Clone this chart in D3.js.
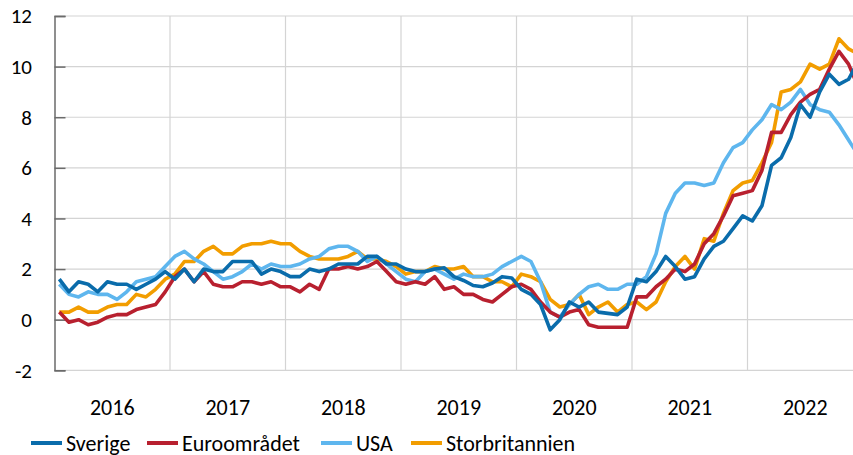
<!DOCTYPE html>
<html>
<head>
<meta charset="utf-8">
<script src="https://cdn.jsdelivr.net/npm/d3@7"></script>
<style>
  html, body { margin: 0; padding: 0; background: #fff; overflow: hidden; }
  svg { display: block; }
  text { font-family: Carlito, Calibri, Lato, "Open Sans", sans-serif; fill: #000; }
</style>
</head>
<body>
<svg id="chart" width="853" height="455"></svg>
<script>
// ---- data (monthly, Jan 2016 – Dec 2022, % y/y) ----
const years = ["2016", "2017", "2018", "2019", "2020", "2021", "2022"];
const yTicks = [-2, 0, 2, 4, 6, 8, 10, 12];
const seriesNames = ["Sverige", "Euroområdet", "USA", "Storbritannien"];
const seriesColors = ["#0a6cab", "#b8202f", "#5eb6ee", "#f29d00"];

const sverige = [
  1.6, 1.1, 1.5, 1.4, 1.1, 1.5, 1.4, 1.4, 1.2, 1.4, 1.6, 1.9,
  1.6, 2.0, 1.5, 2.0, 1.9, 1.9, 2.3, 2.3, 2.3, 1.8, 2.0, 1.9,
  1.7, 1.7, 2.0, 1.9, 2.0, 2.2, 2.2, 2.2, 2.5, 2.5, 2.2, 2.2,
  2.0, 1.9, 1.9, 2.0, 2.05, 1.7, 1.55, 1.35, 1.3, 1.45, 1.7, 1.65,
  1.2, 1.0, 0.6, -0.4, 0.0, 0.7, 0.5, 0.7, 0.3, 0.25, 0.2, 0.5,
  1.6, 1.5, 1.9, 2.5, 2.1, 1.6, 1.7, 2.4, 2.9, 3.1, 3.6, 4.1,
  3.9, 4.5, 6.1, 6.4, 7.2, 8.5, 8.0, 9.0, 9.7, 9.3, 9.5, 10.2
];
const euroomradet = [
  0.3, -0.1, 0.0, -0.2, -0.1, 0.1, 0.2, 0.2, 0.4, 0.5, 0.6, 1.1,
  1.7, 2.0, 1.5, 1.9, 1.4, 1.3, 1.3, 1.5, 1.5, 1.4, 1.5, 1.3,
  1.3, 1.1, 1.4, 1.2, 2.0, 2.0, 2.1, 2.0, 2.1, 2.3, 1.9, 1.5,
  1.4, 1.5, 1.4, 1.7, 1.2, 1.3, 1.0, 1.0, 0.8, 0.7, 1.0, 1.3,
  1.4, 1.2, 0.7, 0.3, 0.1, 0.3, 0.4, -0.2, -0.3, -0.3, -0.3, -0.3,
  0.9, 0.9, 1.3, 1.6, 2.0, 1.9, 2.2, 3.0, 3.4, 4.1, 4.9, 5.0,
  5.1, 5.9, 7.4, 7.4, 8.1, 8.6, 8.9, 9.1, 9.9, 10.6, 10.1, 9.2
];
const usa = [
  1.4, 1.0, 0.9, 1.1, 1.0, 1.0, 0.8, 1.1, 1.5, 1.6, 1.7, 2.1,
  2.5, 2.7, 2.4, 2.2, 1.9, 1.6, 1.7, 1.9, 2.2, 2.0, 2.2, 2.1,
  2.1, 2.2, 2.4, 2.5, 2.8, 2.9, 2.9, 2.7, 2.3, 2.5, 2.2, 1.9,
  1.6, 1.5, 1.9, 2.0, 1.8, 1.6, 1.8, 1.7, 1.7, 1.8, 2.1, 2.3,
  2.5, 2.3, 1.5, 0.3, 0.1, 0.6, 1.0, 1.3, 1.4, 1.2, 1.2, 1.4,
  1.4, 1.7, 2.6, 4.2, 5.0, 5.4, 5.4, 5.3, 5.4, 6.2, 6.8, 7.0,
  7.5, 7.9, 8.5, 8.3, 8.6, 9.1, 8.5, 8.3, 8.2, 7.7, 7.1, 6.5
];
const storbritannien = [
  0.3, 0.3, 0.5, 0.3, 0.3, 0.5, 0.6, 0.6, 1.0, 0.9, 1.2, 1.6,
  1.8, 2.3, 2.3, 2.7, 2.9, 2.6, 2.6, 2.9, 3.0, 3.0, 3.1, 3.0,
  3.0, 2.7, 2.5, 2.4, 2.4, 2.4, 2.5, 2.7, 2.4, 2.4, 2.3, 2.1,
  1.8, 1.9, 1.9, 2.1, 2.0, 2.0, 2.1, 1.7, 1.7, 1.5, 1.5, 1.3,
  1.8, 1.7, 1.5, 0.8, 0.5, 0.6, 1.0, 0.2, 0.5, 0.7, 0.3, 0.6,
  0.7, 0.4, 0.7, 1.5, 2.1, 2.5, 2.0, 3.2, 3.1, 4.2, 5.1, 5.4,
  5.5, 6.2, 7.0, 9.0, 9.1, 9.4, 10.1, 9.9, 10.1, 11.1, 10.7, 10.5
];
const seriesValues = [sverige, euroomradet, usa, storbritannien];

// ---- layout ----
const svg = d3.select("#chart");
const plotLeft = 54.5, plotRight = 863, plotTop = 16, plotBottom = 370.3;
const nMonths = years.length * 12;

const x = d3.scaleLinear().domain([0, nMonths]).range([plotLeft, plotRight]);
const y = d3.scaleLinear().domain([-2, 12]).range([plotBottom, plotTop]);

// horizontal gridlines
svg.append("g").selectAll("line").data(yTicks).join("line")
  .attr("x1", plotLeft).attr("x2", plotRight)
  .attr("y1", d => y(d)).attr("y2", d => y(d))
  .attr("stroke", "#d4d4d4").attr("stroke-width", 1.2);

// vertical year gridlines
svg.append("g").selectAll("line").data(d3.range(1, years.length)).join("line")
  .attr("x1", d => x(d * 12)).attr("x2", d => x(d * 12))
  .attr("y1", plotTop).attr("y2", plotBottom)
  .attr("stroke", "#d4d4d4").attr("stroke-width", 1.2);

// left axis
const yAxis = d3.axisRight(y).tickValues(yTicks).tickSize(11).tickFormat("");
const ga = svg.append("g").attr("transform", `translate(${plotLeft},0)`).call(yAxis);
ga.select(".domain").attr("stroke", "#6b6b6b").attr("stroke-width", 1.5);
ga.selectAll(".tick line").attr("stroke", "#6b6b6b").attr("stroke-width", 1.5);

// y labels
svg.append("g").selectAll("text").data(yTicks).join("text")
  .attr("x", 32).attr("y", d => y(d))
  .attr("dy", "0.35em")
  .attr("text-anchor", "end")
  .attr("font-size", 21)
  .text(d => d);

// year labels
svg.append("g").selectAll("text").data(years).join("text")
  .attr("x", (d, i) => x(i * 12 + 6))
  .attr("y", 415)
  .attr("text-anchor", "middle")
  .attr("font-size", 22)
  .text(d => d);

// lines (Sverige drawn last, on top)
const line = d3.line().x((d, i) => x(i + 0.5)).y(d => y(d));
const order = [3, 2, 1, 0];
svg.append("g").selectAll("path").data(order).join("path")
  .attr("d", k => line(seriesValues[k]))
  .attr("fill", "none")
  .attr("stroke", k => seriesColors[k])
  .attr("stroke-width", 3.6)
  .attr("stroke-linejoin", "round");

// legend
const legend = svg.append("g").attr("transform", "translate(0,443)");
const legendX = [31, 147, 321, 411];
seriesNames.forEach((name, i) => {
  const g = legend.append("g").attr("transform", `translate(${legendX[i]},0)`);
  g.append("line").attr("x1", 0).attr("x2", 31).attr("y1", 0).attr("y2", 0)
    .attr("stroke", seriesColors[i]).attr("stroke-width", 4);
  g.append("text").attr("x", 35).attr("y", 0).attr("dy", "0.35em")
    .attr("font-size", 22).text(name);
});
</script>
</body>
</html>
